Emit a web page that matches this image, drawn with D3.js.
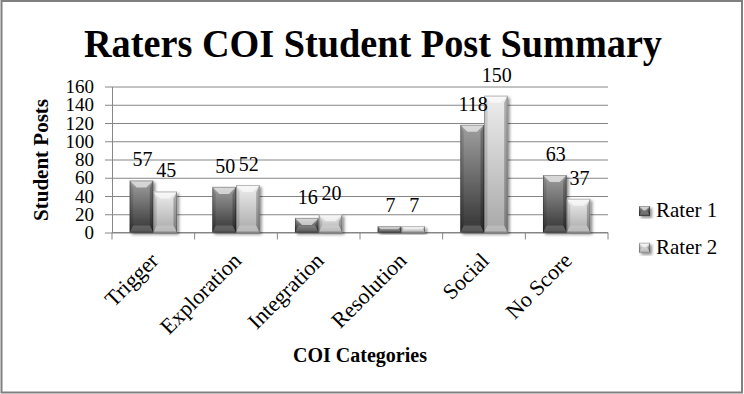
<!DOCTYPE html>
<html>
<head>
<meta charset="utf-8">
<script src="https://cdn.jsdelivr.net/npm/d3@7"></script>
<style>
  body { margin: 0; background: #fff; }
  text { font-family: "Liberation Serif", "Times New Roman", serif; fill: #000; }
</style>
</head>
<body>
<div id="chart"></div>
<script>
const width = 744,
    height = 394;

// data
const categories = ['Trigger', 'Exploration', 'Integration', 'Resolution', 'Social', 'No Score'];
const seriesNames = ['Rater 1', 'Rater 2'];
const rater1 = [57, 50, 16, 7, 118, 63];
const rater2 = [45, 52, 20, 7, 150, 37];
const yTicks = [0, 20, 40, 60, 80, 100, 120, 140, 160];

const plotLeft = 112, plotRight = 608, plotTop = 86.5, plotBottom = 232.5;

const svg = d3.select('#chart')
    .append('svg')
    .attr('width', width)
    .attr('height', height);

const defs = svg.append('defs');

// body gradients for the two raters
const grads = [['r1', '#a0a0a0', '#333333'], ['r2', '#eeeeee', '#a8a8a8']];
grads.forEach(function(g) {
    const lg = defs.append('linearGradient')
        .attr('id', g[0]).attr('x1', 0).attr('y1', 0).attr('x2', 0).attr('y2', 1);
    lg.append('stop').attr('offset', '0%').attr('stop-color', g[1]);
    lg.append('stop').attr('offset', '100%').attr('stop-color', g[2]);
});

const shadow = defs.append('filter').attr('id', 'shadow')
    .attr('x', '-30%').attr('y', '-20%').attr('width', '170%').attr('height', '150%');
shadow.append('feDropShadow')
    .attr('dx', 2).attr('dy', 2).attr('stdDeviation', 1.5)
    .attr('flood-color', '#000').attr('flood-opacity', 0.45);

// outer border
svg.append('rect')
    .attr('x', 1.5).attr('y', 1)
    .attr('width', 740.5).attr('height', 391.5)
    .attr('fill', 'none')
    .attr('stroke', '#808080')
    .attr('stroke-width', 2);

// title
svg.append('text')
    .attr('x', 373)
    .attr('y', 57)
    .attr('text-anchor', 'middle')
    .style('font-size', '41px')
    .style('font-weight', 'bold')
    .attr('textLength', 578)
    .attr('lengthAdjust', 'spacingAndGlyphs')
    .text('Raters COI Student Post Summary');

// scales
const x = d3.scaleBand()
    .domain(categories)
    .range([plotLeft, plotRight])
    .paddingInner(0)
    .paddingOuter(0);

const xSub = d3.scaleBand()
    .domain(seriesNames)
    .range([0, x.bandwidth()])
    .paddingInner(0)
    .paddingOuter(0.745);

const y = d3.scaleLinear()
    .domain([0, 160])
    .range([plotBottom, plotTop]);

// gridlines
svg.append('g')
    .attr('transform', 'translate(' + plotLeft + ',0)')
    .call(d3.axisLeft(y).tickValues(yTicks).tickSize(-(plotRight - plotLeft)).tickFormat(''))
    .call(function(g) {
        g.select('.domain').remove();
        g.selectAll('line').attr('stroke', '#868686');
    });

// y axis
svg.append('g')
    .attr('transform', 'translate(' + plotLeft + ',0)')
    .call(d3.axisLeft(y).tickValues(yTicks).tickSize(7).tickSizeOuter(0).tickPadding(11))
    .call(function(g) {
        g.select('.domain').attr('stroke', '#868686');
        g.selectAll('line').attr('stroke', '#868686');
        g.selectAll('text')
            .attr('fill', '#000')
            .style('font-family', '"Liberation Serif", serif')
            .style('font-size', '19px');
    });

// x axis: baseline plus ticks at category boundaries
const xAxis = svg.append('g');
xAxis.append('line')
    .attr('x1', plotLeft).attr('x2', plotRight)
    .attr('y1', y(0)).attr('y2', y(0))
    .attr('stroke', '#868686');
const bounds = categories.map(function(c) { return x(c); }).concat([x(categories[categories.length - 1]) + x.bandwidth()]);
xAxis.selectAll('.xtick')
    .data(bounds)
    .enter()
    .append('line')
    .attr('x1', function(d) { return d; })
    .attr('x2', function(d) { return d; })
    .attr('y1', y(0))
    .attr('y2', y(0) + 7)
    .attr('stroke', '#868686');

xAxis.selectAll('.xlabel')
    .data(categories)
    .enter()
    .append('text')
    .attr('text-anchor', 'end')
    .attr('dy', '0.35em')
    .attr('transform', function(d) {
        return 'translate(' + (x(d) + x.bandwidth() / 2 + 1) + ',' + (y(0) + 24) + ') rotate(-45)';
    })
    .style('font-size', '22px')
    .text(function(d) { return d; });

// axis titles
svg.append('text')
    .attr('transform', 'translate(48,160) rotate(-90)')
    .attr('text-anchor', 'middle')
    .style('font-size', '21px')
    .style('font-weight', 'bold')
    .text('Student Posts');

svg.append('text')
    .attr('x', (plotLeft + plotRight) / 2)
    .attr('y', 362)
    .attr('text-anchor', 'middle')
    .style('font-size', '20px')
    .style('font-weight', 'bold')
    .text('COI Categories');

// bars
const rows = categories.map(function(c, i) {
    return { name: c, values: [rater1[i], rater2[i]] };
});

function drawBevelBar(sel, x0, w, top, h, gradId) {
    const b = Math.min(7, w / 2 - 1, h / 2);
    const x1 = x0 + w, bottom = top + h;
    const g = sel.append('g');
    g.append('rect')
        .attr('x', x0).attr('y', top).attr('width', w).attr('height', h)
        .attr('fill', 'url(#' + gradId + ')')
        .attr('filter', 'url(#shadow)');
    // top face
    g.append('polygon')
        .attr('points', [[x0, top], [x1, top], [x1 - b, top + b], [x0 + b, top + b]].join(' '))
        .attr('fill', '#fff').attr('fill-opacity', 0.6);
    // left face
    g.append('polygon')
        .attr('points', [[x0, top], [x0 + b / 2, top + b], [x0 + b / 2, bottom - b], [x0, bottom]].join(' '))
        .attr('fill', '#000').attr('fill-opacity', 0.12);
    // right face
    g.append('polygon')
        .attr('points', [[x1, top], [x1 - b / 2, top + b], [x1 - b / 2, bottom - b], [x1, bottom]].join(' '))
        .attr('fill', '#000').attr('fill-opacity', 0.25);
    // bottom face
    g.append('polygon')
        .attr('points', [[x0, bottom], [x0 + b / 2, bottom - b], [x1 - b / 2, bottom - b], [x1, bottom]].join(' '))
        .attr('fill', '#fff').attr('fill-opacity', 0.18);
    // edge outline
    g.append('rect')
        .attr('x', x0 + 0.5).attr('y', top + 0.5).attr('width', w - 1).attr('height', Math.max(h - 1, 0))
        .attr('fill', 'none')
        .attr('stroke', '#000').attr('stroke-opacity', 0.25);
}

const groups = svg.append('g')
    .selectAll('g')
    .data(rows)
    .enter()
    .append('g')
    .attr('transform', function(d) { return 'translate(' + x(d.name) + ',0)'; });

groups.each(function(d) {
    const grp = d3.select(this);
    d.values.forEach(function(v, i) {
        const s = seriesNames[i];
        drawBevelBar(grp, xSub(s), xSub.bandwidth(), y(v), y(0) - y(v), i === 0 ? 'r1' : 'r2');
    });
});

// value labels
groups.each(function(d) {
    const grp = d3.select(this);
    d.values.forEach(function(v, i) {
        grp.append('text')
            .attr('x', xSub(seriesNames[i]) + xSub.bandwidth() / 2 + 1)
            .attr('y', y(v) - 14)
            .attr('text-anchor', 'middle')
            .style('font-size', '20px')
            .text(v);
    });
});

// legend
const legend = svg.append('g')
    .selectAll('g')
    .data(seriesNames)
    .enter()
    .append('g')
    .attr('transform', function(d, i) { return 'translate(639,' + (206 + i * 36.7) + ')'; });

legend.each(function(d, i) {
    drawBevelBar(d3.select(this), 0, 11, 0, 10, i === 0 ? 'r1' : 'r2');
});

legend.append('text')
    .attr('x', 17)
    .attr('y', 11)
    .style('font-size', '21px')
    .text(function(d) { return d; });
</script>
</body>
</html>
